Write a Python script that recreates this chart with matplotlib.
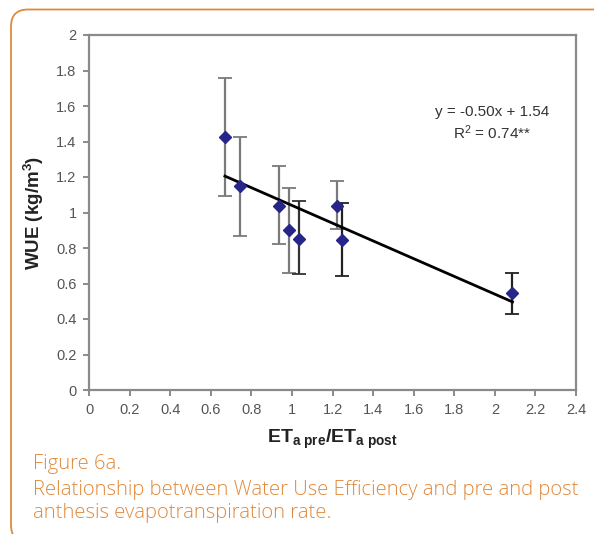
import matplotlib
matplotlib.use("Agg")
import matplotlib.pyplot as plt
from matplotlib.patches import FancyBboxPatch
import numpy as np

plt.rcParams['mathtext.fontset'] = 'custom'
plt.rcParams['mathtext.rm'] = 'Liberation Sans'
plt.rcParams['mathtext.bf'] = 'Liberation Sans:bold'
plt.rcParams['mathtext.it'] = 'Liberation Sans:italic'

# Data
et_ratio = [0.67, 0.744, 0.938, 0.987, 1.034, 1.22, 1.248, 2.087]
wue = [1.425, 1.149, 1.038, 0.901, 0.851, 1.038, 0.843, 0.545]
err_hi = [1.756, 1.427, 1.264, 1.136, 1.063, 1.176, 1.051, 0.657]
err_lo = [1.095, 0.869, 0.822, 0.661, 0.652, 0.909, 0.642, 0.428]
err_colors = ['#7a7a7a', '#7a7a7a', '#7a7a7a', '#7a7a7a', '#333333', '#7a7a7a', '#222222', '#222222']
slope = -0.50
intercept = 1.54
x_ticks = [0, 0.2, 0.4, 0.6, 0.8, 1, 1.2, 1.4, 1.6, 1.8, 2, 2.2, 2.4]
x_ticklabels = ['0', '0.2', '0.4', '0.6', '0.8', '1', '1.2', '1.4', '1.6', '1.8', '2', '2.2', '2.4']
y_ticks = [0, 0.2, 0.4, 0.6, 0.8, 1, 1.2, 1.4, 1.6, 1.8, 2]
y_ticklabels = ['0', '0.2', '0.4', '0.6', '0.8', '1', '1.2', '1.4', '1.6', '1.8', '2']
caption = ["Figure 6a.",
           "Relationship between Water Use Efficiency and pre and post",
           "anthesis evapotranspiration rate."]

orange = '#E0893A'
W, H = 594, 534
fig = plt.figure(figsize=(W / 100, H / 100), dpi=100)

# Orange rounded frame (partially off-canvas on right and bottom), in inches
frame = FancyBboxPatch((0.11, -0.08), (W + 30 - 11) / 100, (H - 9.5 + 8) / 100,
                       boxstyle="round,pad=0,rounding_size=0.17",
                       transform=fig.dpi_scale_trans, fill=False,
                       edgecolor=orange, linewidth=1.3, clip_on=False)
fig.patches.append(frame)

ax = fig.add_axes([89 / W, (H - 390) / H, 487 / W, 355 / H])
ax.set_xlim(0, 2.4)
ax.set_ylim(0, 2)

# Regression line
xl = np.array([min(et_ratio), max(et_ratio)])
ax.plot(xl, slope * xl + intercept, color='black', lw=2, zorder=3)

# Error bars
for xi, yi, hi, lo, c in zip(et_ratio, wue, err_hi, err_lo, err_colors):
    ax.errorbar([xi], [yi], yerr=[[yi - lo], [hi - yi]], fmt='none',
                ecolor=c, elinewidth=1.6, capsize=5, capthick=1.3, zorder=2)
ax.plot(et_ratio, wue, linestyle='none', marker='D', markersize=6,
        color='#25258A', zorder=4)

ax.set_xticks(x_ticks)
ax.set_xticklabels(x_ticklabels)
ax.set_yticks(y_ticks)
ax.set_yticklabels(y_ticklabels)
ax.tick_params(direction='out', length=4, width=1.2, color='#777777',
               labelcolor='#555555', labelsize=10.5, pad=5)
for lab in ax.get_xticklabels() + ax.get_yticklabels():
    lab.set_fontfamily('Liberation Sans')
for s in ax.spines.values():
    s.set_color('#8a8a8a')
    s.set_linewidth(1.6)

ax.set_ylabel(r'WUE (kg/m$^\mathbf{3}$)', fontsize=13.5, fontweight='bold',
              family='Liberation Sans', color='#222222', labelpad=7)
ax.set_xlabel(r'$\mathbf{ET_{a\ pre}/ET_{a\ post}}$', fontsize=14,
              color='#222222', labelpad=8)

ax.text(1.985, 1.566, 'y = -0.50x + 1.54', ha='center', va='center',
        fontsize=11, family='Liberation Sans', color='#333333')
ax.text(1.985, 1.448, r'R$^2$ = 0.74**', ha='center', va='center',
        fontsize=11, family='Liberation Sans', color='#333333')

# Caption
ys = [464, 490, 513]
for t, yp in zip(caption, ys):
    fig.text(33 / W, 1 - yp / H, t, ha='left', va='center', fontsize=14.6,
             family='Open Sans', fontweight='light', color=orange)

fig.savefig('out.png', dpi=100)
